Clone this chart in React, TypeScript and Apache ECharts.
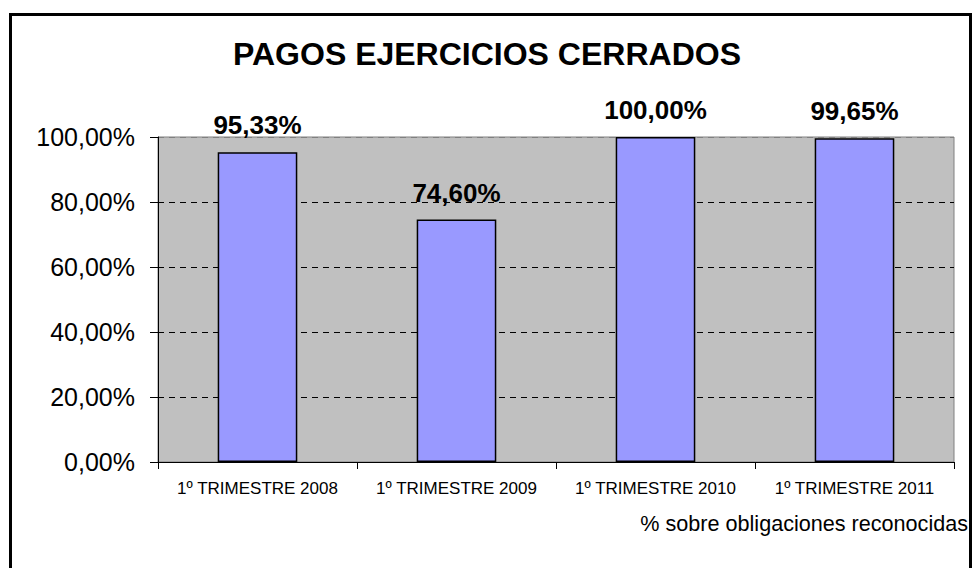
import React, { useEffect, useRef } from "react";
import * as echarts from "echarts";

const categories = ["1º TRIMESTRE 2008", "1º TRIMESTRE 2009", "1º TRIMESTRE 2010", "1º TRIMESTRE 2011"];
const values = [95.33, 74.6, 100.0, 99.65];
const titleText = "PAGOS EJERCICIOS CERRADOS";
const noteText = "% sobre obligaciones reconocidas";

const FONT = "'Liberation Sans', Arial, sans-serif";

const fmt = (v: number) => v.toFixed(2).replace(".", ",") + "%";

export default function App() {
  const ref = useRef<HTMLDivElement>(null);
  useEffect(() => {
    const chart = echarts.init(ref.current!, null, { renderer: "svg" });
    chart.setOption({
      animation: false,
      backgroundColor: "#ffffff",
      textStyle: { fontFamily: FONT },
      title: {
        text: titleText,
        left: "center",
        top: 33,
        textStyle: { fontFamily: FONT, fontSize: 32, fontWeight: "bold", color: "#000" },
      },
      grid: {
        left: 158,
        right: 20,
        top: 137,
        bottom: 106,
        show: true,
        backgroundColor: "#C0C0C0",
        borderColor: "#808080",
        borderWidth: 1,
      },
      xAxis: {
        type: "category",
        data: categories,
        axisLine: { lineStyle: { color: "#000", width: 1 } },
        axisTick: { show: true, length: 7, lineStyle: { color: "#000" } },
        axisLabel: { fontFamily: FONT, fontSize: 17, color: "#000", margin: 18, interval: 0 },
        splitLine: { show: false },
      },
      yAxis: {
        type: "value",
        min: 0,
        max: 100,
        interval: 20,
        axisLine: { show: true, lineStyle: { color: "#000", width: 1 } },
        axisTick: { show: true, length: 8, lineStyle: { color: "#000" } },
        axisLabel: {
          fontFamily: FONT,
          fontSize: 25,
          color: "#000",
          margin: 23,
          formatter: (v: number) => fmt(v),
        },
        splitLine: {
          show: true,
          lineStyle: {
            color: ["transparent", "#000", "#000", "#000", "#000", "#808080"],
            type: [6, 5],
            width: 1,
          },
        },
      },
      series: [
        {
          type: "bar",
          data: values,
          barWidth: "40%",
          itemStyle: { color: "#9999FF", borderColor: "#000", borderWidth: 1.5 },
          label: {
            show: true,
            position: "top",
            distance: 14,
            fontFamily: FONT,
            fontSize: 26,
            fontWeight: "bold",
            color: "#000",
            formatter: (p: any) => fmt(p.value),
          },
        },
      ],
      graphic: [
        {
          type: "rect",
          shape: { x: 10.5, y: 14.5, width: 960, height: 620 },
          style: { fill: "none", stroke: "#000", lineWidth: 3 },
          silent: true,
          z: 100,
        },
        {
          type: "text",
          right: 6,
          top: 512,
          style: { text: noteText, font: `21.6px ${FONT}`, fill: "#000" },
        },
      ],
    });
    return () => chart.dispose();
  }, []);
  return (
    <div
      ref={ref}
      style={{ position: "fixed", left: 0, top: 0, width: 974, height: 568 }}
    />
  );
}
